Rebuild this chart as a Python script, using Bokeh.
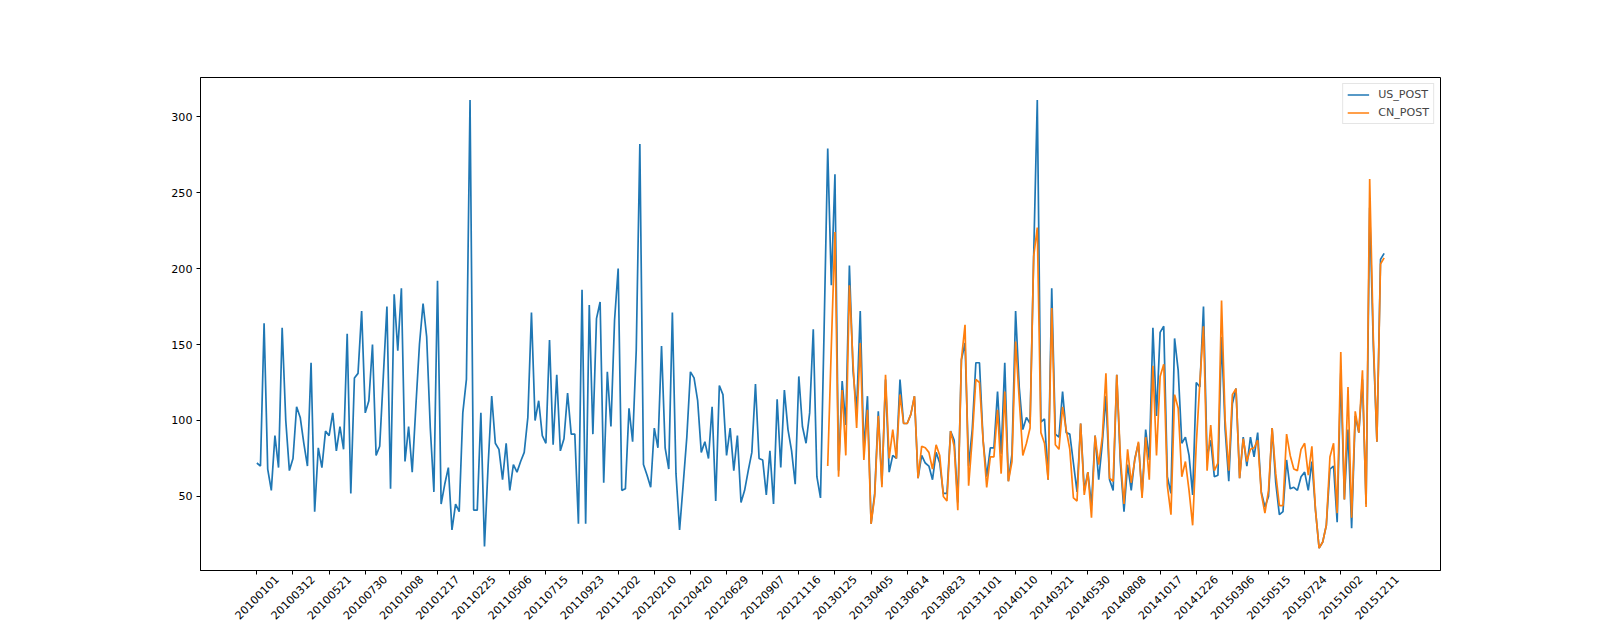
import math
import pandas as pd
from bokeh.plotting import figure
from bokeh.models import FixedTicker, Range1d, Legend, LegendItem, LinearAxis
from bokeh.embed import file_html
from bokeh.resources import INLINE

us_post = [72, 70, 164, 68, 54, 90, 69, 161, 100, 67,
           75, 109, 102, 85, 70, 138, 40, 82, 69, 93,
           90, 105, 80, 96, 81, 157, 52, 128, 131, 172,
           105, 113, 150, 77, 83, 129, 175, 55, 183, 146,
           187, 73, 96, 66, 109, 150, 177, 155, 95, 53,
           192, 45, 58, 69, 28, 45, 40, 105, 127, 311,
           41, 41, 105, 17, 70, 116, 85, 81, 61, 85,
           54, 71, 66, 73, 79, 102, 171, 100, 113, 90,
           85, 153, 84, 130, 80, 88, 118, 91, 91, 32,
           186, 32, 176, 91, 167, 178, 59, 132, 96, 166,
           200, 54, 55, 108, 86, 146, 282, 71, 64, 56,
           95, 82, 149, 82, 68, 171, 65, 28, 58, 89,
           132, 128, 113, 79, 86, 75, 109, 47, 123, 117,
           77, 95, 67, 90, 46, 54, 67, 79, 124, 75,
           74, 51, 80, 45, 114, 69, 120, 94, 80, 58,
           129, 96, 85, 105, 160, 63, 49, 160, 279, 189,
           262, 67, 126, 97, 202, 133, 106, 172, 80, 116,
           32, 52, 106, 58, 127, 66, 77, 75, 127, 98,
           98, 104, 116, 62, 77, 72, 70, 61, 79, 72,
           52, 52, 93, 87, 46, 140, 151, 70, 94, 138,
           138, 87, 63, 82, 82, 119, 78, 138, 60, 78,
           172, 122, 94, 102, 98, 208, 311, 99, 101, 61,
           187, 91, 89, 119, 92, 91, 72, 53, 98, 54,
           66, 44, 90, 61, 85, 116, 61, 54, 130, 72,
           40, 71, 54, 75, 85, 51, 94, 74, 161, 103,
           158, 162, 63, 52, 154, 133, 85, 89, 77, 51,
           125, 122, 175, 76, 87, 63, 64, 155, 94, 60,
           111, 121, 62, 89, 70, 89, 76, 92, 53, 43,
           50, 95, 59, 38, 40, 74, 55, 56, 54, 63,
           66, 54, 73, 41, 16, 20, 31, 68, 70, 33,
           131, 48, 94, 29, 103, 92, 127, 45, 240, 150,
           86, 206, 210]

cn_start = 158
cn_post = [70, 149, 224, 63, 120, 77, 189, 138, 95, 151,
           74, 107, 32, 50, 103, 56, 130, 75, 94, 75,
           117, 98, 98, 104, 116, 62, 83, 82, 79, 68,
           84, 77, 50, 47, 93, 83, 41, 140, 163, 57,
           88, 127, 125, 87, 56, 76, 76, 107, 65, 119,
           60, 73, 152, 114, 77, 85, 95, 208, 227, 92,
           85, 61, 174, 84, 81, 109, 94, 81, 49, 47,
           98, 51, 66, 36, 90, 71, 89, 131, 62, 60,
           130, 76, 45, 81, 59, 74, 86, 49, 89, 61,
           136, 77, 129, 137, 57, 38, 117, 108, 63, 73,
           54, 31, 84, 125, 162, 67, 97, 67, 72, 179,
           100, 67, 117, 121, 62, 88, 73, 81, 82, 87,
           52, 39, 54, 95, 65, 44, 44, 91, 77, 68,
           67, 81, 85, 64, 83, 41, 16, 20, 31, 76,
           85, 39, 145, 48, 122, 36, 106, 92, 133, 43,
           259, 155, 86, 203, 207]

dates = list(pd.date_range("2010-01-01", periods=len(us_post), freq="7D").strftime("%Y%m%d"))
tick_idx = list(range(0, len(dates), 10))
tick_text = [dates[i] for i in tick_idx]

us_x = list(range(len(us_post)))
cn_x = list(range(cn_start, cn_start + len(cn_post)))

n = len(us_post) - 1
xpad = 0.05 * n
allv = us_post + cn_post
ymin, ymax = min(allv), max(allv)
ypad = 0.05 * (ymax - ymin)
y0 = ymin - ypad

FONT = "DejaVu Sans"
FS = 11.1          # 10 pt at 80 dpi
TICK = 4
FRAME_W = 1240

p = figure(width=1600, height=640, output_backend="svg", toolbar_location=None,
           x_range=Range1d(-xpad, n + xpad), y_range=Range1d(y0, ymax + ypad),
           min_border_left=200, min_border_right=160, min_border_top=77, min_border_bottom=70)
p.background_fill_color = "white"
p.border_fill_color = "white"
p.outline_line_color = "black"
p.outline_line_width = 1
p.grid.visible = False

r1 = p.line(us_x, us_post, line_color="#1f77b4", line_width=1.7)
r2 = p.line(cn_x, cn_post, line_color="#ff7f0e", line_width=1.7)

# axis that carries only the tick marks
p.xaxis.ticker = FixedTicker(ticks=tick_idx)
p.xaxis.major_label_overrides = {i: "" for i in tick_idx}
p.xaxis.major_label_text_font_size = "1px"
p.xaxis.major_label_standoff = 0
p.yaxis.ticker = FixedTicker(ticks=[50, 100, 150, 200, 250, 300])

for ax in (p.xaxis[0], p.yaxis[0]):
    ax.axis_line_color = "black"
    ax.axis_line_width = 1
    ax.major_tick_in = 0
    ax.major_tick_out = TICK
    ax.major_tick_line_width = 1
    ax.minor_tick_out = 0
    ax.minor_tick_in = 0
    ax.major_label_text_color = "black"
p.yaxis.major_label_text_font = FONT
p.yaxis.major_label_text_font_size = f"{FS}px"
p.yaxis.major_label_standoff = 4

# second axis carrying the rotated labels, shifted so each label is centred on its tick
w = 8 * 0.636 * FS
shift = (w / 2) * math.sqrt(0.5) * (n * 1.1) / FRAME_W
lab_pos = [i + shift for i in tick_idx]
lab_axis = LinearAxis(ticker=FixedTicker(ticks=lab_pos),
                      major_label_overrides={pos: t for pos, t in zip(lab_pos, tick_text)},
                      major_label_orientation=math.pi / 4,
                      axis_line_color=None, major_tick_line_color=None,
                      minor_tick_line_color=None, major_tick_out=0, major_tick_in=0,
                      minor_tick_out=0, minor_tick_in=0,
                      major_label_standoff=3,
                      major_label_text_font=FONT, major_label_text_font_size=f"{FS}px",
                      major_label_text_color="black")
p.add_layout(lab_axis, "below")

legend = Legend(items=[LegendItem(label="US_POST", renderers=[r1]),
                       LegendItem(label="CN_POST", renderers=[r2])],
                location="top_right")
legend.label_text_font = FONT
legend.label_text_font_size = f"{FS}px"
legend.glyph_width = 22
legend.glyph_height = 13
legend.label_standoff = 9
legend.spacing = 5
legend.padding = 4
legend.margin = 6
legend.border_line_color = "#cccccc"
legend.border_line_width = 1
legend.background_fill_alpha = 0.8
legend.label_height = 13
p.add_layout(legend)

open("out.html", "w").write(file_html(p, INLINE))
